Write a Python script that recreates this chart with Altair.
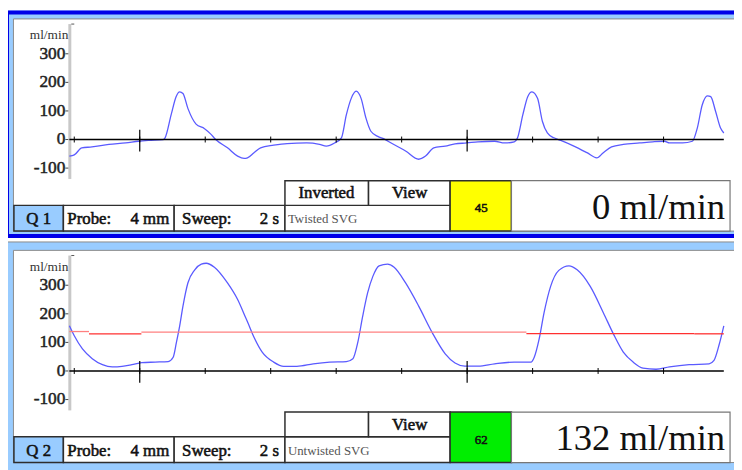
import altair as alt
import pandas as pd

# ---------------- data ----------------
FLOW_TICKS = [300, 200, 100, 0, -100]
FLOW_TICK_LABELS = ["300", "200", "100", "0", "-100"]
FLOW_DOMAIN = [-138, 404]
TIME_DOMAIN = [0, 2]
TIME_TICKS = [0.0, 0.2, 0.4, 0.6, 0.8, 1.0, 1.2, 1.4, 1.6, 1.8]
TIME_MARKERS = [0.2, 1.2]
TRACE_START, TRACE_END = -0.015, 1.984

q1_time = [-0.015, 0.000, 0.023, 0.054, 0.106, 0.157, 0.196, 0.227, 0.272, 0.277,
           0.296, 0.311, 0.322, 0.332, 0.347, 0.372, 0.398, 0.417, 0.432, 0.468,
           0.499, 0.519, 0.529, 0.549, 0.569, 0.609, 0.650, 0.710, 0.749, 0.770,
           0.795, 0.816, 0.831, 0.846, 0.861, 0.876, 0.891, 0.906, 0.927, 0.946,
           0.972, 1.012, 1.052, 1.073, 1.098, 1.133, 1.163, 1.199, 1.233, 1.284,
           1.314, 1.344, 1.354, 1.370, 1.385, 1.398, 1.415, 1.430, 1.445, 1.465,
           1.486, 1.526, 1.566, 1.596, 1.616, 1.641, 1.677, 1.727, 1.767, 1.803,
           1.818, 1.858, 1.888, 1.903, 1.918, 1.934, 1.944, 1.959, 1.974, 1.984]
q1_flow = [-58, -54, -29, -26, -17, -12, -6, -3, 0, 5,
           87, 150, 167, 161, 109, 54, 38, 19, 0, -29,
           -58, -66, -64, -46, -29, -20, -14, -12, -17, -23,
           -12, 6, 86, 144, 169, 144, 75, 29, 11, 2,
           -15, -40, -69, -58, -29, -23, -15, -12, -8, -6,
           -12, -8, 6, 86, 150, 167, 144, 63, 23, 6,
           -3, -23, -46, -64, -46, -26, -17, -12, -8, -6,
           -12, -12, -6, 40, 121, 153, 150, 98, 40, 23]

q2_time = [-0.015, 0.000, 0.025, 0.055, 0.086, 0.116, 0.146, 0.176, 0.206, 0.247,
           0.287, 0.302, 0.312, 0.322, 0.332, 0.347, 0.368, 0.388, 0.403, 0.428,
           0.468, 0.499, 0.524, 0.529, 0.549, 0.574, 0.609, 0.640, 0.680, 0.730,
           0.780, 0.831, 0.851, 0.866, 0.881, 0.896, 0.912, 0.931, 0.957, 0.977,
           1.012, 1.052, 1.093, 1.133, 1.163, 1.193, 1.234, 1.284, 1.344, 1.395,
           1.405, 1.420, 1.435, 1.455, 1.480, 1.511, 1.536, 1.576, 1.616, 1.647,
           1.677, 1.707, 1.737, 1.777, 1.818, 1.878, 1.939, 1.954, 1.969, 1.984]
q2_flow = [158, 123, 77, 43, 22, 14, 16, 22, 29, 31,
           33, 48, 100, 158, 227, 308, 354, 374, 377, 363,
           308, 250, 185, 172, 118, 66, 31, 16, 16, 25,
           31, 33, 43, 100, 192, 273, 331, 368, 374, 363,
           308, 227, 135, 60, 28, 17, 17, 25, 31, 31,
           48, 112, 204, 296, 352, 368, 354, 296, 204, 129,
           66, 31, 10, 6, 14, 22, 25, 37, 89, 158]

q2_mean_start = [-0.015, 0.045, 0.205, 1.381, 1.894]
q2_mean_end = [0.045, 0.205, 1.381, 1.894, 1.984]
q2_mean_flow = [138, 130, 136, 131, 130]
q2_mean_kind = ["previous", "current", "previous", "current", "current"]

channel_names = ["Q 1", "Q 2"]
probe_label = "Probe:"
probe_values = ["4 mm", "4 mm"]
sweep_label = "Sweep:"
sweep_values = ["2 s", "2 s"]
mode_labels = ["Inverted", ""]
view_labels = ["View", "View"]
descriptions = ["Twisted SVG", "Untwisted SVG"]
signal_values = ["45", "62"]
readouts = ["0 ml/min", "132 ml/min"]
unit_label = "ml/min"

# ---------------- styling helpers ----------------
FONT = "Liberation Serif"
LIGHT = "#99ccff"
EDGE = "#2e2e2e"
ONE = pd.DataFrame({"k": [0]})
XS = alt.Scale(domain=TIME_DOMAIN, range=[75, 737], nice=False, zero=False)


def yscale(y0):
    return alt.Scale(domain=FLOW_DOMAIN, range=[y0 + 170.3, y0 + 13.7], nice=False, zero=False)


def box(x, x2, y, y2, fill="white", stroke=None, sw=1.0):
    kw = {}
    if fill is None:
        kw["fill"] = "white"
        kw["fillOpacity"] = 0
    else:
        kw["fill"] = fill
    if stroke is not None:
        kw["stroke"] = stroke
        kw["strokeWidth"] = sw
    return alt.Chart(ONE).mark_rect(**kw).encode(
        x=alt.value(x), x2=alt.value(x2), y=alt.value(y), y2=alt.value(y2))


def label(x, y, s, size, align="left", heavy=False, color="#000", baseline="alphabetic"):
    kw = dict(text=s, font=FONT, fontSize=size, align=align, baseline=baseline, color=color)
    if heavy:
        kw.update(stroke=color, strokeWidth=0.55)
    return alt.Chart(ONE).mark_text(**kw).encode(x=alt.value(x), y=alt.value(y))


def panel(i, y0, bottom, selected, time, flow, badge_color, mean=None):
    ys = yscale(y0)
    zero_px = y0 + 170.3 - (0 - FLOW_DOMAIN[0]) / (FLOW_DOMAIN[1] - FLOW_DOMAIN[0]) * 156.6
    L = []
    # frame
    L.append(box(5, 770, y0, bottom, fill=LIGHT, stroke=None if selected else "#8a8a8a"))
    if selected:
        L.append(box(7, 772, y0 + 2, bottom - 2, fill=None, stroke="#0000e8", sw=4))
    L.append(box(13.5, 745, y0 + 8.5, y0 + 223, fill="white", stroke="#8a8a8a", sw=1))

    # y axis
    ax = pd.DataFrame({"lo": [FLOW_DOMAIN[0]], "hi": [FLOW_DOMAIN[1]]})
    L.append(alt.Chart(ax).mark_rule(color="#c8c8c8", strokeWidth=3).encode(
        x=alt.value(70.5), y=alt.Y("lo:Q", scale=ys, axis=None), y2="hi:Q"))
    L.append(alt.Chart(ax).mark_rule(color="#555", strokeWidth=1).encode(
        x=alt.value(72), x2=alt.value(75), y=alt.Y("hi:Q", scale=ys, axis=None)))
    ticks = pd.DataFrame({"v": FLOW_TICKS, "lab": FLOW_TICK_LABELS})
    L.append(alt.Chart(ticks).mark_rule(color="#444", strokeWidth=1).encode(
        x=alt.value(66), x2=alt.value(69), y=alt.Y("v:Q", scale=ys, axis=None)))
    L.append(alt.Chart(ticks).mark_text(
        font=FONT, fontSize=17.5, align="right", baseline="middle", color="#222",
        stroke="#222", strokeWidth=0.5).encode(
        x=alt.value(66), y=alt.Y("v:Q", scale=ys, axis=None), text="lab:N"))
    L.append(label(69, y0 + 25, unit_label, 13.5, align="right", baseline="middle", color="#333"))

    # trace
    tr = pd.DataFrame({"t": time, "v": flow})
    L.append(alt.Chart(tr).mark_line(color="#5a5aff", strokeWidth=1.3, interpolate="monotone").encode(
        x=alt.X("t:Q", scale=XS, axis=None), y=alt.Y("v:Q", scale=ys, axis=None)))
    if mean is not None:
        md = pd.DataFrame(mean)
        L.append(alt.Chart(md).mark_rule(strokeWidth=1.3).encode(
            x=alt.X("t0:Q", scale=XS, axis=None), x2="t1:Q",
            y=alt.Y("v:Q", scale=ys, axis=None),
            color=alt.Color("kind:N", scale=alt.Scale(domain=["previous", "current"],
                                                      range=["#ff8080", "#ff3030"]), legend=None)))

    # zero line and time ticks
    zl = pd.DataFrame({"t0": [TRACE_START], "t1": [TRACE_END], "v": [0]})
    L.append(alt.Chart(zl).mark_rule(color="black", strokeWidth=1.6).encode(
        x=alt.X("t0:Q", scale=XS, axis=None), x2="t1:Q", y=alt.Y("v:Q", scale=ys, axis=None)))
    tk = pd.DataFrame({"t": TIME_TICKS})
    L.append(alt.Chart(tk).mark_rule(color="black", strokeWidth=1).encode(
        x=alt.X("t:Q", scale=XS, axis=None), y=alt.value(zero_px - 3), y2=alt.value(zero_px + 3)))
    mk = pd.DataFrame({"t": TIME_MARKERS})
    L.append(alt.Chart(mk).mark_rule(color="black", strokeWidth=1.2).encode(
        x=alt.X("t:Q", scale=XS, axis=None), y=alt.value(zero_px - 10), y2=alt.value(zero_px + 12)))

    # status boxes
    r1, r2, r3 = y0 + 172, y0 + 197, y0 + 223
    L.append(box(14, 64, r2, r3, fill=LIGHT, stroke=EDGE, sw=1.5))
    L.append(box(64, 176, r2, r3, stroke=EDGE, sw=1.5))
    L.append(box(176, 288, r2, r3, stroke=EDGE, sw=1.5))
    L.append(box(288, 455, r2, r3, stroke=EDGE, sw=1.5))
    L.append(box(288, 372.5, r1, r2, stroke=EDGE, sw=1.5))
    L.append(box(372.5, 455, r1, r2, stroke=EDGE, sw=1.5))
    L.append(box(455, 517, r1, r3, fill=badge_color, stroke=EDGE, sw=1.5))
    L.append(box(517, 738, r1, r3, stroke="#777", sw=1.2))

    tb = y0 + 216
    L.append(label(39, tb, channel_names[i], 17, align="center", heavy=True, color="#111"))
    L.append(label(68, tb, probe_label, 17, heavy=True, color="#111"))
    L.append(label(171, tb, probe_values[i], 17, align="right", heavy=True, color="#111"))
    L.append(label(184, tb, sweep_label, 17, heavy=True, color="#111"))
    L.append(label(282, tb, sweep_values[i], 17, align="right", heavy=True, color="#111"))
    L.append(label(291, y0 + 215, descriptions[i], 13, color="#555"))
    if mode_labels[i]:
        L.append(label(330, y0 + 190, mode_labels[i], 17, align="center", heavy=True, color="#111"))
    L.append(label(414, y0 + 190, view_labels[i], 17, align="center", heavy=True, color="#111"))
    L.append(label(486.5, y0 + 200, signal_values[i], 13, align="center", heavy=True,
                   baseline="middle", color="#111"))
    L.append(label(733, y0 + 210.5, readouts[i], 37, align="right", color="#111"))
    return L


layers = []
layers += panel(0, 8, 238, True, q1_time, q1_flow, "#ffff00")
layers += panel(1, 242, 480, False, q2_time, q2_flow, "#00ee00",
                mean={"t0": q2_mean_start, "t1": q2_mean_end, "v": q2_mean_flow, "kind": q2_mean_kind})

chart = alt.layer(*layers).resolve_scale(y="independent").properties(
    width=742, height=470,
    autosize=alt.AutoSizeParams(type="none"),
    padding={"left": -8, "top": -8, "right": 0, "bottom": 0},
    background="white",
).configure_view(stroke=None)

chart.save("out.html", embed_options={"renderer": "svg", "actions": False})
